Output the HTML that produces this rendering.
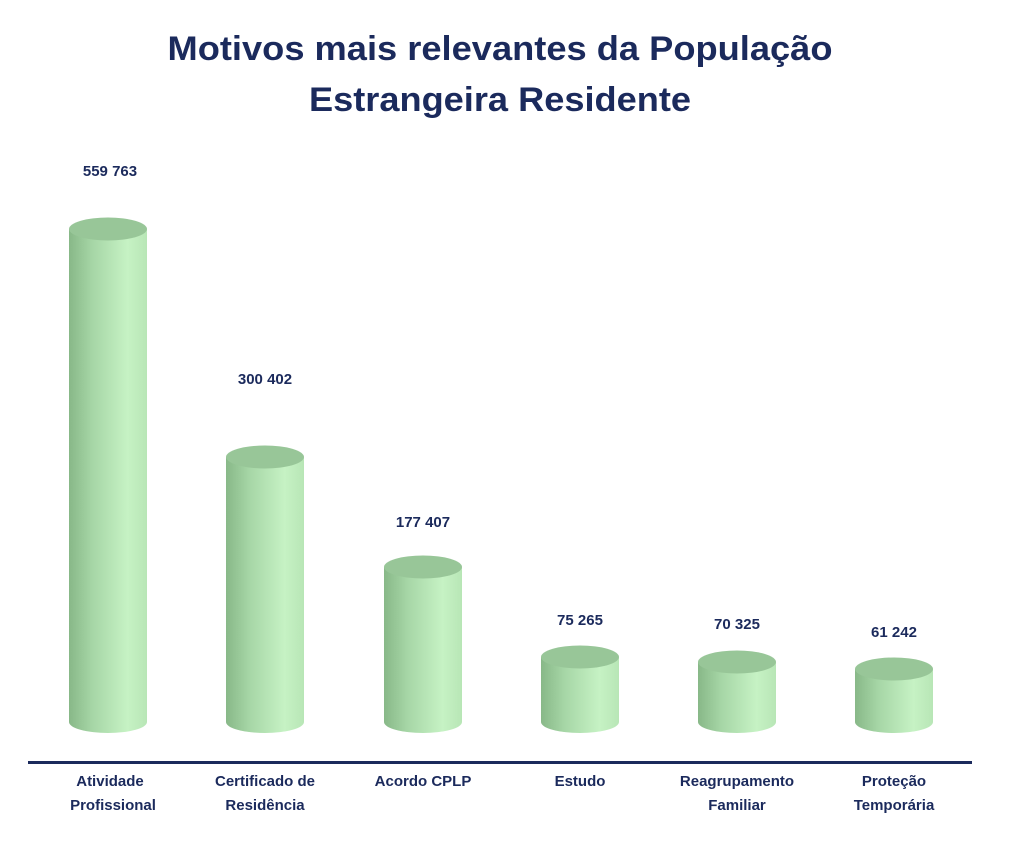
<!DOCTYPE html>
<html><head><meta charset="utf-8"><style>
html,body{margin:0;padding:0;background:#fff;}
svg{display:block;font-family:"Liberation Sans",sans-serif;}
</style></head><body>
<svg width="1024" height="853" viewBox="0 0 1024 853" xmlns="http://www.w3.org/2000/svg">
<defs>
<linearGradient id="b" x1="0" x2="1" y1="0" y2="0">
<stop offset="0" stop-color="#88b888"/>
<stop offset="0.3" stop-color="#a6d6a6"/>
<stop offset="0.75" stop-color="#c6f2c4"/>
<stop offset="1" stop-color="#b8e6b6"/>
</linearGradient>
</defs>
<g fill="#1b2a5c" font-weight="bold" text-anchor="middle">
<text x="500" y="60" font-size="34" textLength="665" lengthAdjust="spacingAndGlyphs">Motivos mais relevantes da População</text>
<text x="500" y="111" font-size="34" textLength="382" lengthAdjust="spacingAndGlyphs">Estrangeira Residente</text>
</g>
<g>
<path d="M69 229 V722 A39 11 0 0 0 147 722 V229 Z" fill="url(#b)"/><ellipse cx="108" cy="229" rx="39" ry="11.5" fill="#98c698"/>
<path d="M226 457 V722 A39 11 0 0 0 304 722 V457 Z" fill="url(#b)"/><ellipse cx="265" cy="457" rx="39" ry="11.5" fill="#98c698"/>
<path d="M384 567 V722 A39 11 0 0 0 462 722 V567 Z" fill="url(#b)"/><ellipse cx="423" cy="567" rx="39" ry="11.5" fill="#98c698"/>
<path d="M541 657 V722 A39 11 0 0 0 619 722 V657 Z" fill="url(#b)"/><ellipse cx="580" cy="657" rx="39" ry="11.5" fill="#98c698"/>
<path d="M698 662 V722 A39 11 0 0 0 776 722 V662 Z" fill="url(#b)"/><ellipse cx="737" cy="662" rx="39" ry="11.5" fill="#98c698"/>
<path d="M855 669 V722 A39 11 0 0 0 933 722 V669 Z" fill="url(#b)"/><ellipse cx="894" cy="669" rx="39" ry="11.5" fill="#98c698"/>
</g>
<rect x="28" y="761" width="944" height="3" fill="#1b2a5c"/>
<g fill="#1b2a5c" font-weight="bold" font-size="15" text-anchor="middle">
<text x="110" y="176">559 763</text>
<text x="265" y="384">300 402</text>
<text x="423" y="527">177 407</text>
<text x="580" y="625">75 265</text>
<text x="737" y="629">70 325</text>
<text x="894" y="637">61 242</text>
<text x="110" y="786">Atividade</text><text x="113" y="810">Profissional</text>
<text x="265" y="786">Certificado de</text><text x="265" y="810">Residência</text>
<text x="423" y="786">Acordo CPLP</text>
<text x="580" y="786">Estudo</text>
<text x="737" y="786">Reagrupamento</text><text x="737" y="810">Familiar</text>
<text x="894" y="786">Proteção</text><text x="894" y="810">Temporária</text>
</g>
</svg>
</body></html>
